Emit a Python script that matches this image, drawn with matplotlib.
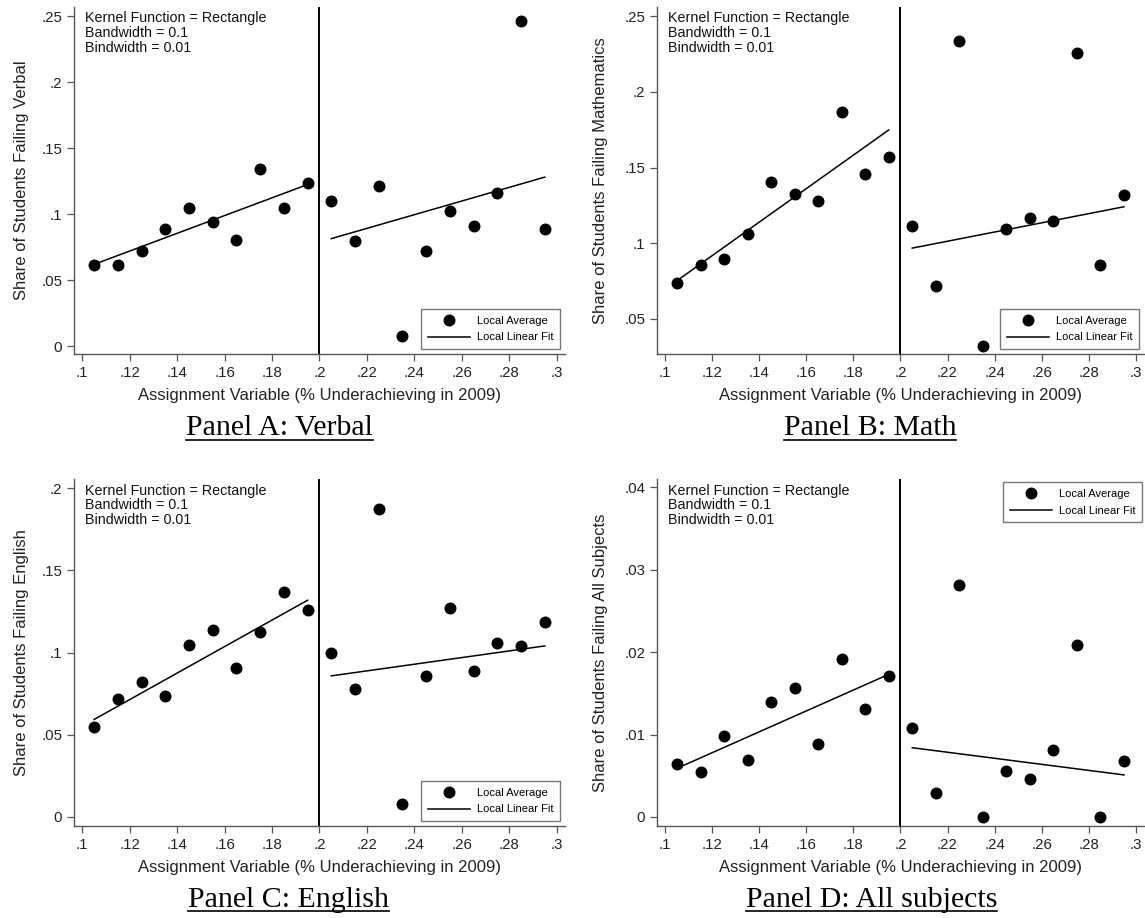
"""Regression discontinuity plots: share of students failing, four panels"""
import matplotlib.pyplot as plt
from matplotlib.lines import Line2D

# bin midpoints of the assignment variable
x_bins = [0.105, 0.115, 0.125, 0.135, 0.145, 0.155, 0.165, 0.175, 0.185, 0.195,
          0.205, 0.215, 0.225, 0.235, 0.245, 0.255, 0.265, 0.275, 0.285, 0.295]

# local averages per bin
verbal = [0.0617, 0.0617, 0.0726, 0.0887, 0.1050, 0.0945, 0.0806, 0.1346, 0.1050, 0.1235,
          0.1100, 0.0800, 0.1217, 0.0083, 0.0726, 0.1026, 0.0912, 0.1159, 0.2465, 0.0892]
math = [0.0737, 0.0858, 0.0896, 0.1058, 0.1405, 0.1324, 0.1280, 0.1865, 0.1458, 0.1570,
        0.1115, 0.0718, 0.2337, 0.0324, 0.1091, 0.1170, 0.1150, 0.2258, 0.0858, 0.1318]
english = [0.0545, 0.0719, 0.0818, 0.0733, 0.1047, 0.1136, 0.0905, 0.1126, 0.1370, 0.1257,
           0.0998, 0.0781, 0.1872, 0.0079, 0.0860, 0.1273, 0.0887, 0.1055, 0.1038, 0.1188]
all_subjects = [0.0064, 0.0054, 0.0098, 0.0069, 0.0139, 0.0156, 0.0089, 0.0192, 0.0131, 0.0171,
                0.0108, 0.0029, 0.0281, 0.0000, 0.0056, 0.0046, 0.0081, 0.0209, 0.0000, 0.0068]

# local linear fit, start and end value on each side of the cutoff
fit_x_left = [0.105, 0.195]
fit_x_right = [0.205, 0.295]
verbal_fit = ([0.0622, 0.1227], [0.0817, 0.1283])
math_fit = ([0.0753, 0.1748], [0.0968, 0.1241])
english_fit = ([0.0593, 0.1318], [0.0858, 0.1040])
all_fit = ([0.0059, 0.0173], [0.0084, 0.0051])

cutoff = 0.2
x_ticks = [0.10, 0.12, 0.14, 0.16, 0.18, 0.20, 0.22, 0.24, 0.26, 0.28, 0.30]
x_tick_labels = [".1", ".12", ".14", ".16", ".18", ".2", ".22", ".24", ".26", ".28", ".3"]

y_ticks_a = [0, 0.05, 0.10, 0.15, 0.20, 0.25]
y_labels_a = ["0", ".05", ".1", ".15", ".2", ".25"]
y_ticks_b = [0.05, 0.10, 0.15, 0.20, 0.25]
y_labels_b = [".05", ".1", ".15", ".2", ".25"]
y_ticks_c = [0, 0.05, 0.10, 0.15, 0.20]
y_labels_c = ["0", ".05", ".1", ".15", ".2"]
y_ticks_d = [0, 0.01, 0.02, 0.03, 0.04]
y_labels_d = ["0", ".01", ".02", ".03", ".04"]

note = "Kernel Function = Rectangle\nBandwidth = 0.1\nBindwidth = 0.01"
x_title = "Assignment Variable (% Underachieving in 2009)"

plt.rcParams["font.family"] = ["Liberation Sans", "DejaVu Sans"]
AXIS_GRAY = "#555555"


def draw_panel(axis, values, fit, ylabel, yticks, ylabels, ylim, label_x, legend_loc):
    """Draw one panel with dots, fit lines, cutoff and legend"""
    axis.set_xlim(0.0965, 0.3035)
    axis.set_ylim(*ylim)
    axis.axvline(cutoff, color="black", lw=1.4, zorder=2)
    axis.plot(x_bins, values, "o", color="black", markersize=7.6, zorder=4)
    axis.plot(fit_x_left, fit[0], color="black", lw=1.1, zorder=3)
    axis.plot(fit_x_right, fit[1], color="black", lw=1.1, zorder=3)

    for side in ["top", "right"]:
        axis.spines[side].set_visible(False)
    for side in ["left", "bottom"]:
        axis.spines[side].set_color(AXIS_GRAY)
        axis.spines[side].set_linewidth(1.0)

    axis.set_xticks(x_ticks)
    axis.set_xticklabels(x_tick_labels)
    axis.set_yticks(yticks)
    axis.set_yticklabels(ylabels)
    axis.tick_params(direction="out", length=5, width=0.9, color=AXIS_GRAY,
                     labelsize=10.8, labelcolor="#222222", pad=3.5)

    axis.set_xlabel(x_title, fontsize=12, color="#222222", va="center")
    axis.xaxis.set_label_coords(0.5, -0.12)
    axis.set_ylabel(ylabel, fontsize=12, color="#222222", va="center")
    axis.yaxis.set_label_coords(label_x, 0.5)

    axis.text(0.022, 0.987, note, transform=axis.transAxes, fontsize=10.3,
              va="top", ha="left", linespacing=1.08, color="#111111")

    handles = [Line2D([], [], marker="o", color="black", linestyle="none", markersize=7.6),
               Line2D([], [], color="black", lw=1.1)]
    if legend_loc == "lower right":
        anchor = (0.99, 0.014)
    else:
        anchor = (0.996, 0.99)
    leg = axis.legend(handles, ["Local Average", "Local Linear Fit"], loc=legend_loc,
                      bbox_to_anchor=anchor, fontsize=8, frameon=True, fancybox=False,
                      framealpha=1, edgecolor="#777777", handlelength=3.8,
                      handletextpad=0.6, borderpad=0.6, labelspacing=0.6,
                      borderaxespad=0)
    leg.get_frame().set_linewidth(1.0)


fig = plt.figure(figsize=(11.45, 9.18), dpi=100)
ax_a = fig.add_axes([0.0646, 0.6144, 0.4288, 0.378])
ax_b = fig.add_axes([0.5738, 0.6144, 0.4253, 0.378])
ax_c = fig.add_axes([0.0646, 0.1002, 0.4288, 0.378])
ax_d = fig.add_axes([0.5738, 0.1002, 0.4253, 0.378])

draw_panel(ax_a, verbal, verbal_fit, "Share of Students Failing Verbal",
           y_ticks_a, y_labels_a, (-0.0057, 0.2572), -0.106, "lower right")
draw_panel(ax_b, math, math_fit, "Share of Students Failing Mathematics",
           y_ticks_b, y_labels_b, (0.0269, 0.256), -0.117, "lower right")
draw_panel(ax_c, english, english_fit, "Share of Students Failing English",
           y_ticks_c, y_labels_c, (-0.0055, 0.2055), -0.106, "lower right")
draw_panel(ax_d, all_subjects, all_fit, "Share of Students Failing All Subjects",
           y_ticks_d, y_labels_d, (-0.0011, 0.041), -0.117, "upper right")

# panel titles, underlined
titles = [("Panel A: Verbal", 0.244, 0.526), ("Panel B: Math", 0.760, 0.526),
          ("Panel C: English", 0.252, 0.012), ("Panel D: All subjects", 0.761, 0.012)]
title_texts = []
for label, xpos, ypos in titles:
    title_texts.append(fig.text(xpos, ypos, label, ha="center", va="baseline",
                                fontsize=21.5, family=["Liberation Serif", "DejaVu Serif"]))

fig.canvas.draw()
renderer = fig.canvas.get_renderer()
for t in title_texts:
    box = t.get_window_extent(renderer).transformed(fig.transFigure.inverted())
    y_base = t.get_position()[1]
    fig.add_artist(Line2D([box.x0, box.x1], [y_base - 4.5 / 918, y_base - 4.5 / 918],
                          transform=fig.transFigure, color="black", lw=1.2))

fig.savefig("out.png", dpi=100)
